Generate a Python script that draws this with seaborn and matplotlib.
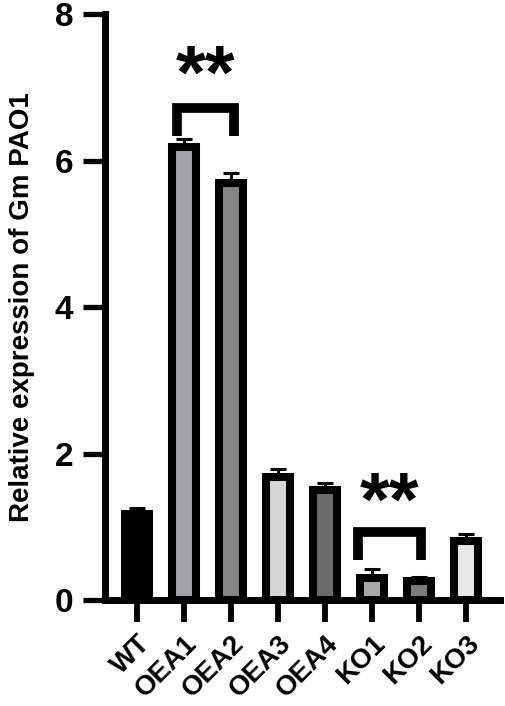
import matplotlib
matplotlib.use("Agg")
import matplotlib.pyplot as plt
import matplotlib.transforms as mtransforms
import seaborn as sns
import numpy as np
import pandas as pd

categories = ["WT", "OEA1", "OEA2", "OEA3", "OEA4", "KO1", "KO2", "KO3"]
values = [1.18, 6.18, 5.70, 1.68, 1.50, 0.30, 0.26, 0.81]
errors = [0.08, 0.11, 0.13, 0.11, 0.10, 0.12, 0.05, 0.09]
colors = ["#000000", "#a3a3aa", "#858585", "#d6d6d6", "#6a6a6a", "#a8a8a8", "#7c7c7c", "#e8e8e8"]
yticks = [0, 2, 4, 6, 8]
ylabel = "Relative expression of Gm PAO1"
sig_pairs = [("OEA1", "OEA2"), ("KO1", "KO2")]
sig_text = "**"

sns.set_theme(style="white")
plt.rcParams["font.family"] = ["Liberation Sans", "DejaVu Sans"]
plt.rcParams["font.weight"] = "bold"
plt.rcParams["text.color"] = "black"
plt.rcParams["xtick.color"] = "black"
plt.rcParams["ytick.color"] = "black"
plt.rcParams["axes.labelcolor"] = "black"

df = pd.DataFrame({"group": categories, "value": values})

fig = plt.figure(figsize=(5.05, 7.06), dpi=100)
ax = fig.add_axes([0.208, 0.150, 0.782, 0.830])

sns.barplot(data=df, x="group", y="value", hue="group", palette=colors,
            order=categories, hue_order=categories, legend=False,
            width=0.51, edgecolor="black", linewidth=5.8, errorbar=None, ax=ax,
            saturation=1)

x = np.arange(len(categories))
ax.errorbar(x, values, yerr=[np.zeros(len(errors)), errors], fmt="none",
            ecolor="black", elinewidth=2.2, capsize=5.8, capthick=2.2, zorder=1)

ax.set_ylim(0, 8)
ax.set_xlim(-0.68, 7.72)
ax.set_yticks(yticks)
ax.set_yticklabels([str(t) for t in yticks], fontsize=24, fontweight="bold",
                   color="black")
ax.set_xticks(x)
ax.set_xticklabels(categories, rotation=45, ha="right", rotation_mode="anchor",
                   fontsize=20, fontweight="bold", color="black")
offset = mtransforms.ScaledTranslation(5 / 72, 0, fig.dpi_scale_trans)
for lab in ax.get_xticklabels():
    lab.set_transform(lab.get_transform() + offset)
ax.set_xlabel("")
ax.set_ylabel(ylabel, fontsize=20, fontweight="bold", labelpad=14,
              color="black")

for s in ["top", "right"]:
    ax.spines[s].set_visible(False)
for s in ["left", "bottom"]:
    ax.spines[s].set_linewidth(5)
    ax.spines[s].set_color("black")
ax.tick_params(axis="y", which="major", length=16, width=3.8, color="black",
               direction="out", pad=7, left=True)
ax.tick_params(axis="x", which="major", length=16, width=4.2, color="black",
               direction="out", pad=6, bottom=True)

# significance brackets
brackets = [
    dict(pair=sig_pairs[0], y=6.72, leg=6.34, dl=-0.15, dr=0.06, ty=6.86),
    dict(pair=sig_pairs[1], y=0.93, leg=0.55, dl=-0.30, dr=0.04, ty=1.03),
]
for b in brackets:
    i1 = categories.index(b["pair"][0])
    i2 = categories.index(b["pair"][1])
    xl, xr = i1 + b["dl"], i2 + b["dr"]
    ax.plot([xl, xl, xr, xr], [b["leg"], b["y"], b["y"], b["leg"]],
            color="black", lw=7, solid_joinstyle="miter", solid_capstyle="butt",
            clip_on=False)
    ax.text((xl + xr) / 2, b["ty"], sig_text, ha="center", va="baseline",
            fontsize=55, fontweight="bold", color="black")

fig.savefig("out.png", dpi=100)
